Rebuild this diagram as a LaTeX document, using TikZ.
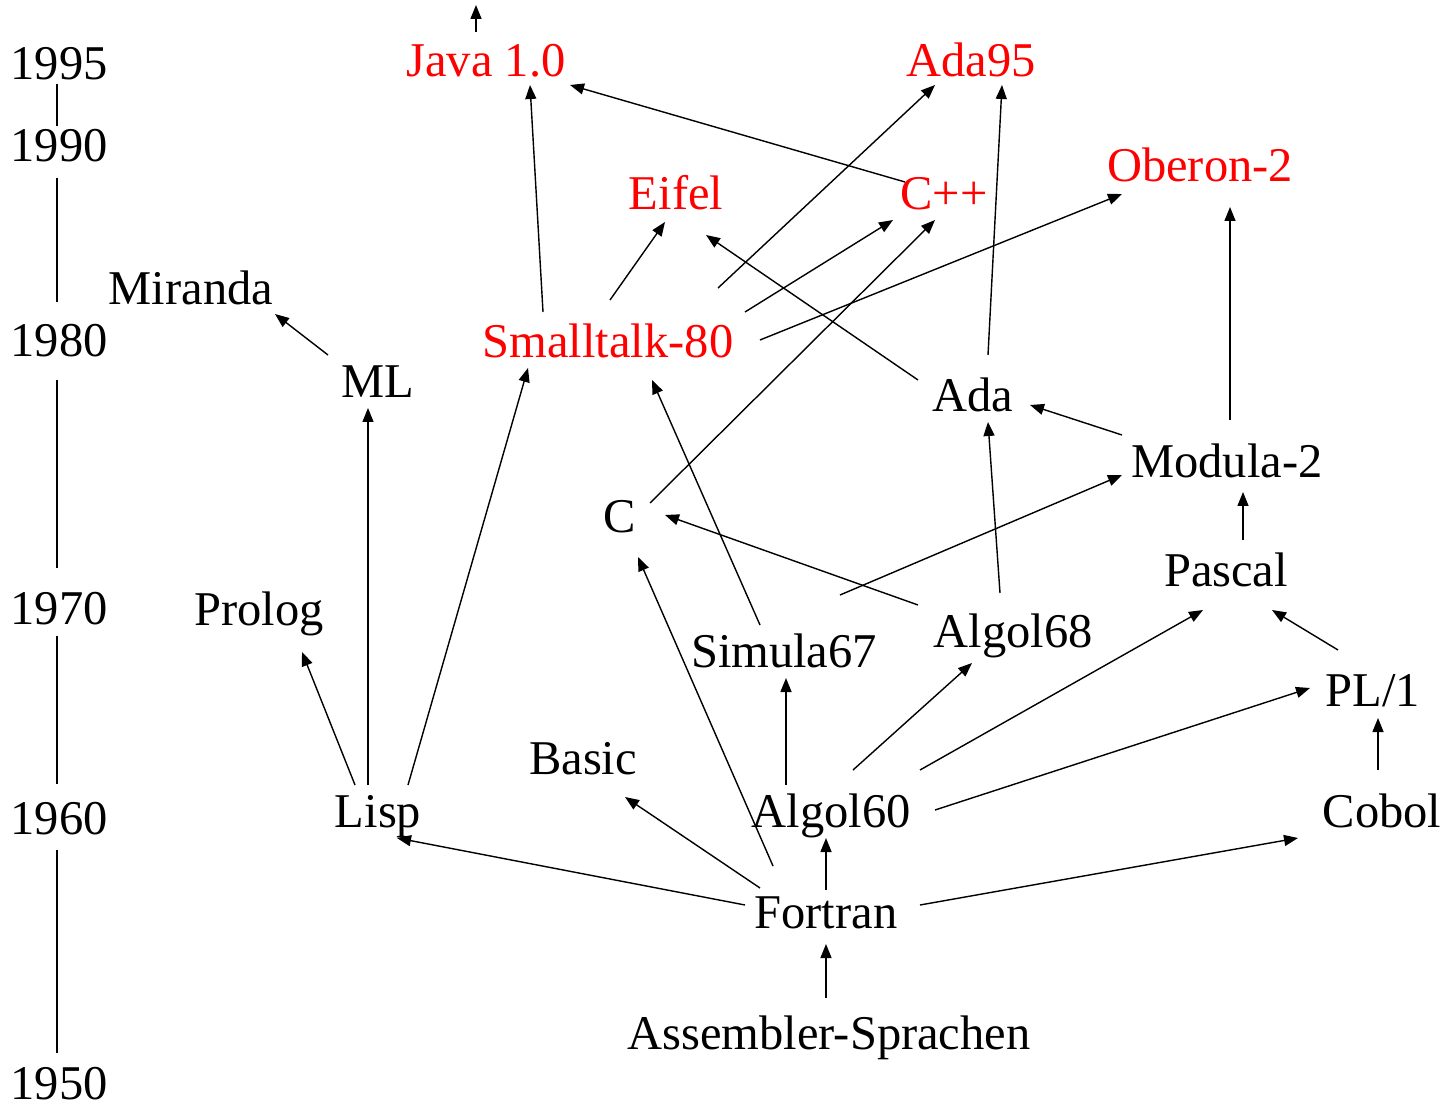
\documentclass[tikz,border=0pt]{standalone}
\usepackage{fontspec}
\setmainfont{Liberation Serif}
\usetikzlibrary{arrows.meta}
\begin{document}
\begin{tikzpicture}
[x=0.02cm, y=-0.02cm,
>={Triangle[length=0.28cm,width=0.22cm]},
lang/.style={anchor=base, inner sep=0pt, font=\fontsize{27.6}{30}\selectfont},
newlang/.style={lang, text=red},
year/.style={lang},
myarrow/.style={->, line width=0.8pt},
yearline/.style={line width=0.6pt}]
  \useasboundingbox (0,0) rectangle (1446,1104);
  \node[year] (y95) at (59,80) {1995};
  \node[year] (y90) at (59,162) {1990};
  \node[year] (y80) at (59,357) {1980};
  \node[year] (y70) at (59,624) {1970};
  \node[year] (y60) at (59,834) {1960};
  \node[year] (y50) at (59,1099) {1950};
  \foreach \a/\b/\s/\e in {y95/y90/4/36, y90/y80/16/55, y80/y70/23/56, y70/y60/12/50, y60/y50/16/46}
    \draw [yearline] ([shift={(-2,\s)}]\a.base) -- ([shift={(-2,-\e)}]\b.base);
  \node[newlang] (java) at (486,77) {Java 1.0};
  \node[newlang] (ada95) at (971,77) {Ada95};
  \node[newlang] (oberon) at (1200,182) {Oberon-2};
  \node[newlang] (eifel) at (676,210) {Eifel};
  \node[newlang] (cpp) at (944,210) {C++};
  \node[newlang] (smalltalk) at (608,358) {Smalltalk-80};
  \node[lang] (miranda) at (191,305) {Miranda};
  \node[lang] (ml) at (378,398) {ML};
  \node[lang] (ada) at (973,412) {Ada};
  \node[lang] (modula) at (1227,478) {Modula-2};
  \node[lang] (c) at (620,532) {C};
  \node[lang] (pascal) at (1226,586) {Pascal};
  \node[lang] (prolog) at (259,625) {Prolog};
  \node[lang] (algolb) at (1013,647) {Algol68};
  \node[lang] (simula) at (784,667) {Simula67};
  \node[lang] (pli) at (1373,706) {PL/1};
  \node[lang] (basic) at (583,774) {Basic};
  \node[lang] (lisp) at (378,827) {Lisp};
  \node[lang] (algola) at (831,827) {Algol60};
  \node[lang] (cobol) at (1382,827) {Cobol};
  \node[lang] (fortran) at (826,928) {Fortran};
  \node[lang] (asm) at (829,1049) {Assembler-Sprachen};
  \coordinate (javanext) at (476,5);
  \draw [myarrow] ([shift={(-3,-51)}]asm.base) -- ([shift={(0,16)}]fortran.base);
  \draw [myarrow] ([shift={(0,-38)}]fortran.base) -- ([shift={(-5,11)}]algola.base);
  \draw [myarrow] ([shift={(-81,-23)}]fortran.base) -- ([shift={(19,11)}]lisp.base);
  \draw [myarrow] ([shift={(-66,-40)}]fortran.base) -- ([shift={(42,23)}]basic.base);
  \draw [myarrow] ([shift={(-53,-62)}]fortran.base) -- ([shift={(18,25)}]c.base);
  \draw [myarrow] ([shift={(94,-23)}]fortran.base) -- ([shift={(-84,11)}]cobol.base);
  \draw [myarrow] ([shift={(-45,-42)}]algola.base) -- ([shift={(2,11)}]simula.base);
  \draw [myarrow] ([shift={(22,-57)}]algola.base) -- ([shift={(-41,16)}]algolb.base);
  \draw [myarrow] ([shift={(89,-57)}]algola.base) -- ([shift={(-23,24)}]pascal.base);
  \draw [myarrow] ([shift={(104,-17)}]algola.base) -- ([shift={(-63,-18)}]pli.base);
  \draw [myarrow] ([shift={(-4,-57)}]cobol.base) -- ([shift={(5,12)}]pli.base);
  \draw [myarrow] ([shift={(-35,-56)}]pli.base) -- ([shift={(46,24)}]pascal.base);
  \draw [myarrow] ([shift={(17,-46)}]pascal.base) -- ([shift={(16,14)}]modula.base);
  \draw [myarrow] ([shift={(-105,-43)}]modula.base) -- ([shift={(57,-7)}]ada.base);
  \draw [myarrow] ([shift={(3,-58)}]modula.base) -- ([shift={(30,25)}]oberon.base);
  \draw [myarrow] ([shift={(-95,-42)}]algolb.base) -- ([shift={(45,-17)}]c.base);
  \draw [myarrow] ([shift={(-13,-54)}]algolb.base) -- ([shift={(15,10)}]ada.base);
  \draw [myarrow] ([shift={(-24,-42)}]simula.base) -- ([shift={(44,22)}]smalltalk.base);
  \draw [myarrow] ([shift={(56,-72)}]simula.base) -- ([shift={(-105,-3)}]modula.base);
  \draw [myarrow] ([shift={(-23,-42)}]lisp.base) -- ([shift={(43,27)}]prolog.base);
  \draw [myarrow] ([shift={(-10,-42)}]lisp.base) -- ([shift={(-10,10)}]ml.base);
  \draw [myarrow] ([shift={(30,-42)}]lisp.base) -- ([shift={(-80,10)}]smalltalk.base);
  \draw [myarrow] ([shift={(-50,-43)}]ml.base) -- ([shift={(84,9)}]miranda.base);
  \draw [myarrow] ([shift={(30,-29)}]c.base) -- ([shift={(-9,10)}]cpp.base);
  \draw [myarrow] ([shift={(-65,-46)}]smalltalk.base) -- ([shift={(44,8)}]java.base);
  \draw [myarrow] ([shift={(2,-58)}]smalltalk.base) -- ([shift={(-11,12)}]eifel.base);
  \draw [myarrow] ([shift={(110,-70)}]smalltalk.base) -- ([shift={(-36,8)}]ada95.base);
  \draw [myarrow] ([shift={(137,-46)}]smalltalk.base) -- ([shift={(-51,10)}]cpp.base);
  \draw [myarrow] ([shift={(152,-18)}]smalltalk.base) -- ([shift={(-78,12)}]oberon.base);
  \draw [myarrow] ([shift={(-55,-32)}]ada.base) -- ([shift={(30,25)}]eifel.base);
  \draw [myarrow] ([shift={(15,-57)}]ada.base) -- ([shift={(31,8)}]ada95.base);
  \draw [myarrow] ([shift={(-39,-28)}]cpp.base) -- ([shift={(84,8)}]java.base);
  \draw [myarrow] ([shift={(-10,-45)}]java.base) -- (javanext);
\end{tikzpicture}
\end{document}
